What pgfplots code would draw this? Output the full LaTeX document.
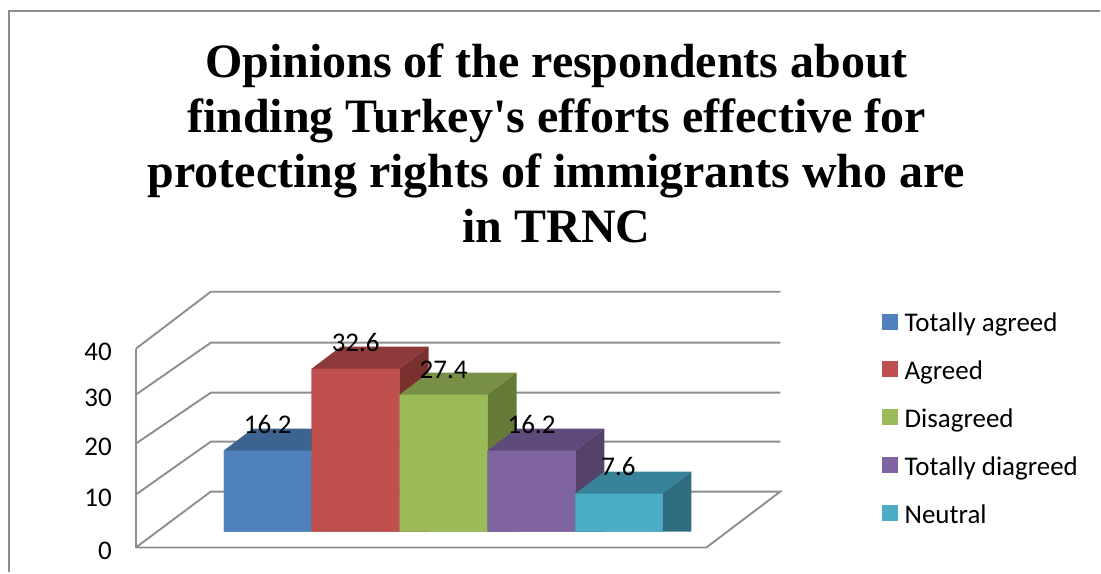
\documentclass[border=0pt]{standalone}
\usepackage{pgfplots}
\pgfplotsset{compat=1.18}
\usepackage{fontspec}
\setmainfont{Carlito}
\newfontfamily\titlefont{Liberation Serif}
\definecolor{wallgrid}{HTML}{8E8E8E}
\definecolor{frameline}{HTML}{8C8C8C}
\definecolor{blueF}{HTML}{4F81BD}\definecolor{blueT}{HTML}{3D6491}
\definecolor{redF}{HTML}{C0504D}\definecolor{redT}{HTML}{8E3A38}\definecolor{redS}{HTML}{7A302E}
\definecolor{greenF}{HTML}{9BBB59}\definecolor{greenT}{HTML}{788F46}\definecolor{greenS}{HTML}{667A38}
\definecolor{purpleF}{HTML}{8064A2}\definecolor{purpleT}{HTML}{5F4B7B}\definecolor{purpleS}{HTML}{544269}
\definecolor{tealF}{HTML}{4BACC6}\definecolor{tealT}{HTML}{37849A}\definecolor{tealS}{HTML}{306D80}
\pgfplotsset{
  wall/.style={draw=wallgrid,line width=1.9pt,no markers,forget plot},
  face/.style={fill=#1,draw=none,no markers,forget plot},
}
\begin{document}
\begin{tikzpicture}
\begin{axis}[
  at={(0pt,0pt)},anchor=south west,
  width=1101pt,height=573pt,scale only axis,
  xmin=0,xmax=1101,ymin=-8.2,ymax=106.4,
  hide axis,clip=false,
  legend style={
    at={(axis cs:883,43.7)},anchor=north west,draw=none,fill=none,
    inner sep=0pt,outer sep=0pt,
    legend cell align=left,
    nodes={font=\fontsize{27}{27}\selectfont,inner sep=0pt,text height=18pt,text depth=6pt},
    row sep=24pt,
  },
  legend image code/.code={\fill[#1] (0pt,-3.5pt) rectangle (15pt,11.5pt);\path (22pt,0pt);},
]
% page area and outer frame
\path (axis cs:0,-8.2) rectangle (axis cs:1101,106.4);
\addplot[draw=frameline,line width=2pt,no markers,forget plot] coordinates {(9.5,-8.2) (9.5,104.1) (1101,104.1)};

% back wall, side wall and floor
\addplot[wall] coordinates {(136,36.6) (211,48) (781,48)};
\addplot[wall] coordinates {(136,27.4) (211,37.8) (781,37.8)};
\addplot[wall] coordinates {(136,17.6) (211,27.8) (781,27.8)};
\addplot[wall] coordinates {(136,7.4) (211,18) (781,18)};
\addplot[wall] coordinates {(136,36.6) (136,-3.2)};
\addplot[wall] coordinates {(136,-3.2) (211,8) (781,8) (707,-3.2) (136,-3.2)};

% Totally agreed: 16.2
\addplot[face=blueT] coordinates {(224,16.2) (253,20.6) (341,20.6) (312,16.2)} \closedcycle;
\addplot[face=blueF] coordinates {(224,0) (224,16.2) (312,16.2) (312,0)} \closedcycle;
% Agreed: 32.6
\addplot[face=redT] coordinates {(312,32.6) (341,37) (429,37) (400,32.6)} \closedcycle;
\addplot[face=redS] coordinates {(400,0) (400,32.6) (429,37) (429,4.4)} \closedcycle;
\addplot[face=redF] coordinates {(312,0) (312,32.6) (400,32.6) (400,0)} \closedcycle;
% Disagreed: 27.4
\addplot[face=greenT] coordinates {(400,27.4) (429,31.8) (517,31.8) (488,27.4)} \closedcycle;
\addplot[face=greenS] coordinates {(488,0) (488,27.4) (517,31.8) (517,4.4)} \closedcycle;
\addplot[face=greenF] coordinates {(400,0) (400,27.4) (488,27.4) (488,0)} \closedcycle;
% Totally diagreed: 16.2
\addplot[face=purpleT] coordinates {(488,16.2) (517,20.6) (605,20.6) (576,16.2)} \closedcycle;
\addplot[face=purpleS] coordinates {(576,0) (576,16.2) (605,20.6) (605,4.4)} \closedcycle;
\addplot[face=purpleF] coordinates {(488,0) (488,16.2) (576,16.2) (576,0)} \closedcycle;
% Neutral: 7.6
\addplot[face=tealT] coordinates {(576,7.6) (605,12) (692,12) (663,7.6)} \closedcycle;
\addplot[face=tealS] coordinates {(663,0) (663,7.6) (692,12) (692,4.4)} \closedcycle;
\addplot[face=tealF] coordinates {(576,0) (576,7.6) (663,7.6) (663,0)} \closedcycle;

% legend entries
\addlegendimage{blueF}\addlegendentry{Totally agreed}
\addlegendimage{redF}\addlegendentry{Agreed}
\addlegendimage{greenF}\addlegendentry{Disagreed}
\addlegendimage{purpleF}\addlegendentry{Totally diagreed}
\addlegendimage{tealF}\addlegendentry{Neutral}

% value labels
\foreach \px/\v/\txt in {268/21.4/16.2,356/37.9/32.6,444/32.4/27.4,532/21.4/16.2,619/13.1/7.6}{
  \edef\tmp{\noexpand\node[font=\noexpand\fontsize{27}{27}\noexpand\selectfont,inner sep=0pt] at (axis cs:\px,\v) {\txt};}
  \tmp
}
% scale numbers
\foreach \v/\txt in {-3.9/0,6.7/10,16.9/20,26.7/30,35.9/40}{
  \edef\tmp{\noexpand\node[font=\noexpand\fontsize{27}{27}\noexpand\selectfont,inner sep=0pt,anchor=east] at (axis cs:112,\v) {\txt};}
  \tmp
}
% title
\node[font=\titlefont\bfseries\fontsize{48}{55}\selectfont,align=center,inner sep=0pt,anchor=north] at (axis cs:557,97.7) {Opinions of the respondents about\\finding Turkey's efforts effective for\\protecting rights of immigrants who are\\in TRNC};
\end{axis}
\end{tikzpicture}
\end{document}
